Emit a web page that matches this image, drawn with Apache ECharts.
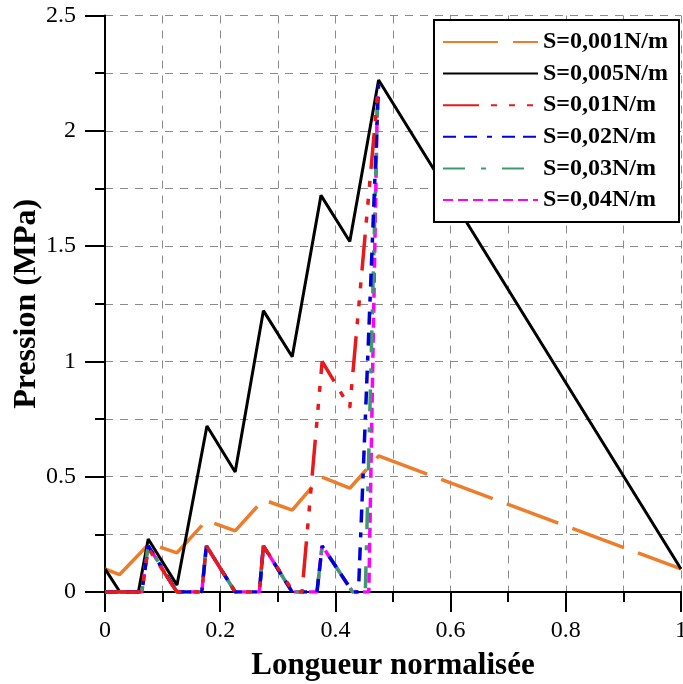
<!DOCTYPE html>
<html><head><meta charset="utf-8">
<script src="https://cdn.jsdelivr.net/npm/echarts@6/dist/echarts.min.js"></script>
<style>html,body{margin:0;padding:0;background:#fff}#c{width:683px;height:684px}</style>
</head><body><div id="c"></div>
<script>
var seriesNames = ['S=0,001N/m','S=0,005N/m','S=0,01N/m','S=0,02N/m','S=0,03N/m','S=0,04N/m'];
var xTickLabels = ['0','0.2','0.4','0.6','0.8','1'];
var yTickLabels = ['0','0.5','1','1.5','2','2.5'];

var x001 = [0, 0.025, 0.077, 0.125, 0.176, 0.226, 0.275, 0.325, 0.375, 0.425, 0.475, 1.0];
var y001 = [0.1, 0.075, 0.21, 0.17, 0.31, 0.265, 0.40, 0.355, 0.50, 0.45, 0.59, 0.1];

var x005 = [0, 0.026, 0.058, 0.075, 0.125, 0.177, 0.226, 0.275, 0.325, 0.375, 0.425, 0.475, 1.0];
var y005 = [0.1, 0, 0, 0.23, 0.03, 0.72, 0.52, 1.22, 1.02, 1.72, 1.52, 2.22, 0.1];

var x01 = [0, 0.064, 0.075, 0.125, 0.168, 0.176, 0.226, 0.268, 0.275, 0.327, 0.342, 0.377, 0.425, 0.473];
var y01 = [0, 0, 0.19, 0, 0, 0.2, 0, 0, 0.2, 0, 0, 1.0, 0.8, 2.15];

var x02 = [0, 0.064, 0.075, 0.125, 0.168, 0.176, 0.226, 0.268, 0.275, 0.325, 0.368, 0.377, 0.43, 0.44, 0.475];
var y02 = [0, 0, 0.2, 0, 0, 0.2, 0, 0, 0.2, 0, 0, 0.2, 0, 0, 2.2];

var x03 = [0, 0.064, 0.075, 0.125, 0.168, 0.176, 0.226, 0.268, 0.275, 0.325, 0.368, 0.377, 0.43, 0.452, 0.473];
var y03 = [0, 0, 0.2, 0, 0, 0.2, 0, 0, 0.2, 0, 0, 0.2, 0, 0, 2.1];

var x04 = [0, 0.064, 0.075, 0.125, 0.168, 0.176, 0.226, 0.268, 0.275, 0.325, 0.368, 0.377, 0.43, 0.458, 0.473];
var y04 = [0, 0, 0.2, 0, 0, 0.2, 0, 0, 0.2, 0, 0, 0.2, 0, 0, 2.15];

function pairs(xs, ys){ return xs.map(function(x,i){ return [x, ys[i]]; }); }

var styles = [
  {color:'#EE7D2B', type:[55,15], width:3.5},
  {color:'#000000', type:'solid', width:3},
  {color:'#E8191B', type:[36,12,6,12,6,12,6,12], width:3.5},
  {color:'#0000D8', type:[13,8,13,10,5,10], width:3.5},
  {color:'#3D9970', type:[22,16,5,16], width:3.5},
  {color:'#FF00FF', type:[10,5], width:3.5}
];
var zOrder = [2, 3, 7, 6, 5, 4];
var datas = [pairs(x001,y001), pairs(x005,y005), pairs(x01,y01), pairs(x02,y02), pairs(x03,y03), pairs(x04,y04)];

var gridLineStyle = {color:'#8a8a8a', type:[8,7], width:1};
var font = 'Liberation Serif';

var chart = echarts.init(document.getElementById('c'), null, {renderer:'canvas'});
chart.setOption({
  animation:false,
  backgroundColor:'#fff',
  grid:{left:105, right:2, top:15.5, bottom:92, containLabel:false, outerBoundsMode:'none'},
  legend:{
    orient:'vertical', right:4, top:20,
    data:seriesNames,
    itemWidth:95, itemHeight:20, itemGap:7.6,
    padding:[10,11,10,8],
    backgroundColor:'#fff', borderColor:'#000', borderWidth:2, borderRadius:0,
    itemStyle:{opacity:0, borderWidth:0},
    textStyle:{fontFamily:font, fontWeight:'bold', fontSize:24, color:'#000', lineHeight:24},
    selectedMode:false
  },
  xAxis:{
    type:'value', min:0, max:1, interval:0.2,
    name:'Longueur normalisée', nameLocation:'middle', nameGap:58, nameMoveOverlap:false,
    nameTextStyle:{fontFamily:font, fontWeight:'bold', fontSize:31, color:'#000'},
    axisLine:{show:true, onZero:false, lineStyle:{color:'#000', width:2}},
    axisTick:{show:true, inside:false, interval:0, length:20, lineStyle:{color:'#000', width:2}},
    minorTick:{show:true, splitNumber:2, length:10, lineStyle:{color:'#000', width:2}},
    axisLabel:{margin:27, fontFamily:font, fontSize:24, color:'#000',
      formatter:function(v){ var i = Math.round(v/0.2); return xTickLabels[i]; }},
    splitLine:{show:true, lineStyle:gridLineStyle},
    minorSplitLine:{show:true, lineStyle:gridLineStyle}
  },
  yAxis:{
    type:'value', min:0, max:2.5, interval:0.5,
    name:'Pression (MPa)', nameLocation:'middle', nameGap:62, nameMoveOverlap:false,
    nameTextStyle:{fontFamily:font, fontWeight:'bold', fontSize:32, color:'#000'},
    axisLine:{show:true, onZero:false, lineStyle:{color:'#000', width:2}},
    axisTick:{show:true, inside:false, interval:0, length:20, lineStyle:{color:'#000', width:2}},
    minorTick:{show:true, splitNumber:2, length:10, lineStyle:{color:'#000', width:2}},
    axisLabel:{margin:29, fontFamily:font, fontSize:24, color:'#000',
      formatter:function(v){ var i = Math.round(v/0.5); return yTickLabels[i]; }},
    splitLine:{show:true, lineStyle:gridLineStyle},
    minorSplitLine:{show:true, lineStyle:gridLineStyle}
  },
  series: seriesNames.map(function(n,i){
    return {
      name:n, type:'line', data:datas[i], symbol:'none', showSymbol:false,
      clip:true, z:zOrder[i],
      itemStyle:{color:styles[i].color},
      lineStyle:{color:styles[i].color, width:styles[i].width, type:styles[i].type}
    };
  })
});
</script></body></html>
